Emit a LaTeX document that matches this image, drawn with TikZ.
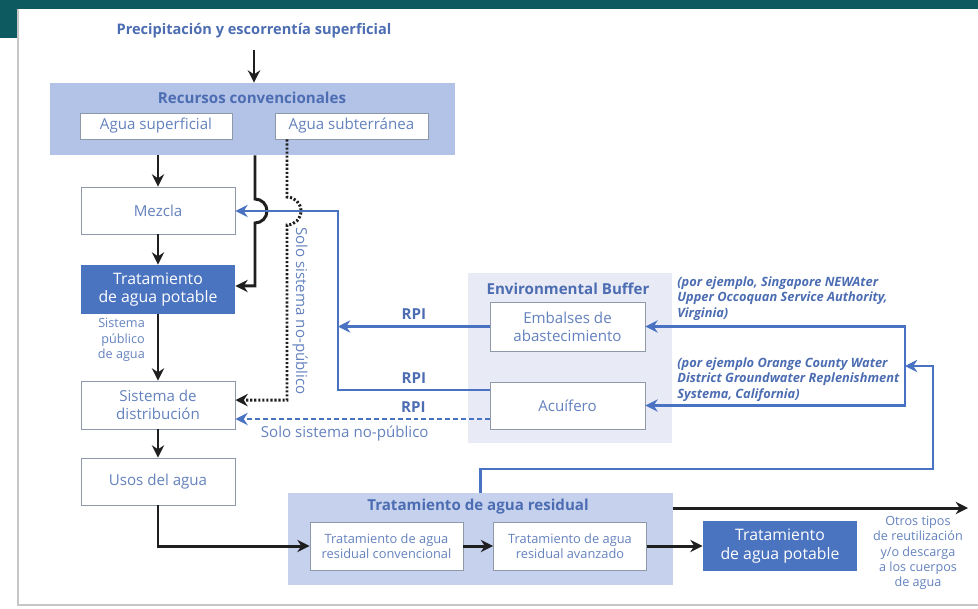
\documentclass[tikz,border=0pt]{standalone}
\usepackage{fontspec}
\setmainfont{Open Sans}
\usepackage{tikz}
\usetikzlibrary{arrows.meta}
\definecolor{bandteal}{HTML}{0D5B60}
\definecolor{recfill}{HTML}{B3C2E7}
\definecolor{resfill}{HTML}{C6D1EE}
\definecolor{buffill}{HTML}{E8EBF5}
\definecolor{potblue}{HTML}{4A73C0}
\definecolor{lineblue}{HTML}{4A72C2}
\definecolor{headblue}{HTML}{4C6DB2}
\definecolor{txtblue}{HTML}{6482BE}
\definecolor{boxgray}{HTML}{8D98A8}
\definecolor{lineblack}{HTML}{1F1F1F}

\begin{document}
\begin{tikzpicture}[x=0.02cm, y=-0.02cm, >={Stealth[length=7pt, width=7pt]}, font=\fontsize{8.6}{10.2}\selectfont]
	\tikzset{box/.style={draw=boxgray, fill=white, line width=0.5pt, text=txtblue, minimum width=3.08cm, minimum height=0.94cm, align=center, inner sep=1pt},
		potbox/.style={box, draw=none, fill=potblue, text=white, font=\fontsize{9}{10.6}\selectfont},
		smallbox/.style={box, minimum width=3.06cm, minimum height=0.96cm, font=\fontsize{7.3}{8.8}\selectfont},
		panel/.style={fill=#1, inner sep=0pt},
		head/.style={text=headblue, font=\bfseries\fontsize{8.6}{10.2}\selectfont},
		note/.style={text=txtblue, font=\fontsize{7.2}{8.7}\selectfont, align=center},
		ann/.style={text=headblue, font=\bfseries\itshape\fontsize{7.3}{8.8}\selectfont, align=left, anchor=north west, inner sep=0pt},
		blk/.style={draw=lineblack, line width=1.7pt},
		dotl/.style={blk, dash pattern=on 1.2pt off 1.1pt},
		bline/.style={draw=lineblue, line width=1.6pt},
		rpi/.style={head, above, inner sep=3pt}}
	\useasboundingbox (0,0) rectangle (978,609);
	% frame
	\fill[bandteal] (0,0) rectangle (978,9);
	\fill[bandteal] (0,0) rectangle (18,38);
	\draw[gray!45, line width=1pt] (18,9) -- (18,605) -- (978,605);
	% panels
	\node[panel=recfill, minimum width=8.1cm, minimum height=1.44cm] (rec) at (252.5,119) {};
	\node[panel=buffill, minimum width=4.08cm, minimum height=3.4cm] (buffer) at (570,358) {};
	\node[panel=resfill, minimum width=7.7cm, minimum height=1.84cm] (residual) at (480.5,539) {};
	\node[head] (rectit) at (252,98) {Recursos convencionales};
	\node[head] (buftit) at (568,289) {Environmental Buffer};
	\node[head] (restit) at (478,507) {Tratamiento de agua residual};
	% sources and left column
	\node[head, font=\bfseries\fontsize{8.3}{9.8}\selectfont] (prec) at (254,31) {Precipitación y escorrentía superficial};
	\node[box, minimum width=3.04cm, minimum height=0.52cm] (agsup) at (156,126) {Agua superficial};
	\node[box, minimum width=3.06cm, minimum height=0.52cm] (agsub) at (351.5,126) {Agua subterránea};
	\node[box] (mezcla) at (158,210.5) {Mezcla};
	\node[potbox, minimum height=0.98cm] (potable) at (158,289.5) {Tratamiento\\de agua potable};
	\node[box, minimum height=0.96cm] (distrib) at (158,405) {Sistema de\\distribución};
	\node[box] (usos) at (158,481.5) {Usos del agua};
	\node[note, align=right, anchor=east] (spub) at (151,340) {Sistema\\público\\de agua};
	% buffer
	\node[box, minimum width=3.1cm, minimum height=0.98cm] (embalses) at (567.5,326.5) {Embalses de\\abastecimiento};
	\node[box, minimum width=3.1cm] (acuifero) at (567.5,405.5) {Acuífero};
	\node[ann] (ann1) at (677,276) {(por ejemplo, Singapore NEWAter\\Upper Occoquan Service Authority,\\Virginia)};
	\node[ann] (ann2) at (677,357) {(por ejemplo Orange County Water\\District Groundwater Replenishment\\Systema, California)};
	% wastewater
	\node[smallbox] (conv) at (386.5,546) {Tratamiento de agua\\residual convencional};
	\node[smallbox] (avanz) at (570,546) {Tratamiento de agua\\residual avanzado};
	\node[potbox, minimum height=1cm] (potable2) at (780,546) {Tratamiento\\de agua potable};
	\node[note] (otros) at (918,553) {Otros tipos\\de reutilización\\y/o descarga\\a los cuerpos\\de agua};
	% black flow
	\draw[blk,->] ([yshift=-3pt]prec.south) -- (prec.south |- rec.north);
	\draw[blk,->] (rec.south -| mezcla.north) -- (mezcla.north);
	\draw[blk,->] (mezcla) -- (potable);
	\draw[blk,->] (potable) -- (distrib);
	\draw[blk,->] (distrib) -- (usos);
	\coordinate (hopk) at (255,199);
	\draw[blk,->] (rec.south -| hopk) -- (hopk) arc[start angle=90, end angle=-90, radius=0.24cm] |- ([yshift=2pt]potable.east);
	\coordinate (hopd) at (287,197);
	\draw[dotl,->] (agsub.south -| hopd) -- (hopd) arc[start angle=90, end angle=-90, radius=0.28cm] |- ([yshift=2.8pt]distrib.east);
	\node[text=txtblue, rotate=-90] (solo1) at (300,311) {Solo sistema no-público};
	\draw[blk,->] (usos) |- (conv);
	\draw[blk,->] (conv) -- (avanz);
	\draw[blk,->] (avanz) -- (potable2);
	\coordinate (otr) at (968,508);
	\draw[blk,->] (residual.north east |- otr) -- (otr);
	% RPI
	\coordinate (bt) at (338,211);
	\coordinate (bb) at (338,390);
	\draw[bline,->] (acuifero.west |- bb) -- node[rpi]{RPI} (bb) -- (bt) -- (mezcla.east |- bt);
	\draw[bline,->] (embalses.west) -- node[rpi]{RPI} (embalses.west -| bt);
	\coordinate (dsh) at ([yshift=-7.7pt]acuifero.west);
	\draw[bline, dash pattern=on 2.8pt off 1.7pt, ->] (dsh) -- node[rpi, pos=0.3]{RPI} node[text=txtblue, below, pos=0.57]{Solo sistema no-público} (dsh -| distrib.east);
	\coordinate (rj) at (905,366);
	\draw[bline,<->] (embalses.east) -| (rj) |- (acuifero.east);
	\coordinate (ro) at (933,469);
	\draw[bline,->] (residual.north) |- (ro) |- (rj);
\end{tikzpicture}
\end{document}
